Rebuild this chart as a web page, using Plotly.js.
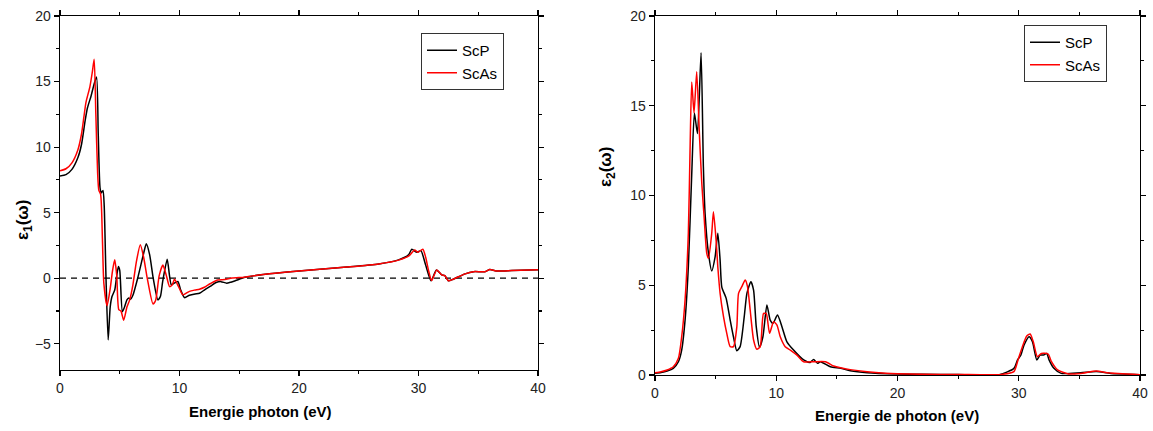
<!DOCTYPE html>
<html>
<head>
<meta charset="utf-8">
<script src="https://cdn.plot.ly/plotly-3.0.1.min.js"></script>
<style>html,body{margin:0;padding:0;background:#fff;}#chart{width:1153px;height:431px;}</style>
</head>
<body>
<div id="chart"></div>
<script>
// ---- Data: epsilon_1 (real part) ----
var e1_ScP_E = [0,0.5,1.0,1.5,1.8,2.1,2.3,2.6,2.85,3.06,3.2,3.35,3.45,3.6,3.7,3.85,4.03,4.2,4.35,4.58,4.75,4.89,5.0,5.22,5.4,5.6,5.75,5.9,6.1,6.5,7.0,7.22,7.5,7.8,8.19,8.4,8.6,8.97,9.15,9.31,9.5,9.86,10.1,10.42,10.83,11.3,11.67,12.08,12.6,13.06,13.47,13.94,14.3,14.7,15.4,16,17,18,20,22,24,26.67,28.33,29.17,29.44,29.86,30.2,30.6,31.05,31.5,31.94,32.2,32.5,32.9,33.9,34.6,35.56,35.97,36.5,37.8,40];
var e1_ScP_V = [7.8,7.9,8.3,9.2,10.2,12.0,13.0,13.9,14.8,15.35,11,6.9,6.5,6.7,5.5,0,-4.7,-2.2,-1.4,-0.9,0.2,0.9,0.6,-2.55,-2.2,-1.65,-1.5,-1.6,-1.3,0,1.9,2.62,1.8,0,-1.65,-1.4,-0.2,1.45,0.3,-0.5,-0.4,-0.25,-0.9,-1.48,-1.3,-1.2,-1.15,-0.9,-0.6,-0.33,-0.26,-0.38,-0.3,-0.18,0.05,0.15,0.28,0.38,0.56,0.7,0.85,1.09,1.4,1.78,2.21,1.98,2.1,1.0,-0.2,0.63,0.25,0.2,-0.2,-0.08,0.33,0.5,0.5,0.66,0.55,0.58,0.65];
var e1_ScAs_E = [0,0.5,1.0,1.5,1.8,2.0,2.17,2.5,2.7,2.86,3.0,3.15,3.25,3.4,3.55,3.67,3.94,4.2,4.4,4.58,4.75,4.92,5.1,5.33,5.6,5.83,6.1,6.4,6.72,7.0,7.3,7.78,8.0,8.3,8.61,8.9,9.17,9.4,9.58,9.9,10.28,10.83,11.3,11.67,12.08,12.6,13.2,13.8,14.4,15.4,16,17,18,20,22,24,26.67,28.33,29.2,29.67,29.95,30.36,30.6,30.83,31.1,31.53,31.94,32.2,32.5,32.9,33.9,34.6,35.56,35.97,36.5,37.8,40];
var e1_ScAs_V = [8.2,8.35,8.8,9.8,11.0,12.3,13.4,14.6,15.7,16.7,12.5,8.0,6.7,6.4,3.0,-0.4,-2.1,-0.8,0.6,1.4,0.2,-2.4,-2.5,-3.2,-2.2,-1.65,-0.5,1.3,2.55,1.6,0,-1.96,-1.7,0.2,1.0,0.2,-0.64,-0.5,-0.08,-0.6,-1.27,-1.0,-0.9,-0.84,-0.69,-0.4,-0.13,-0.1,0.02,0.08,0.16,0.28,0.38,0.56,0.7,0.85,1.09,1.38,1.7,2.16,1.98,2.21,1.6,0.63,-0.18,0.63,0.25,0.2,-0.2,-0.08,0.33,0.5,0.5,0.66,0.55,0.58,0.65];

// ---- Data: epsilon_2 (imaginary part) ----
var e2_ScP_E = [0,0.5,1.0,1.51,1.93,2.2,2.48,2.75,3.03,3.25,3.5,3.8,3.99,4.13,4.41,4.68,4.96,5.18,5.37,5.51,5.87,6.2,6.47,6.75,7.02,7.36,7.58,7.91,8.13,8.35,8.62,8.9,9.23,9.5,9.73,10.1,10.47,10.88,11.43,12.26,12.8,13.08,13.4,13.64,14.46,15.3,16.1,17.5,20,22,25,28.4,29.6,29.9,30.17,30.44,30.85,31.13,31.49,31.76,32.04,32.31,32.5,32.9,33.5,35.1,36.4,37.6,40];
var e2_ScP_V = [0.1,0.14,0.22,0.37,0.74,1.39,3.06,6.03,11.2,14.6,13.45,17.95,11.6,9.0,6.78,5.8,6.6,7.9,6.4,4.9,4.27,3.06,2.13,1.35,1.58,3.25,4.55,5.2,4.73,2.69,1.54,2.13,3.9,3.06,2.88,3.34,2.69,1.85,1.39,0.84,0.7,0.87,0.65,0.74,0.46,0.37,0.24,0.13,0.06,0.04,0.03,0.02,0.37,0.84,1.11,1.67,2.13,1.85,0.84,1.11,1.11,1.2,0.84,0.37,0.09,0.13,0.19,0.09,0.02];
var e2_ScAs_E = [0,0.5,1.0,1.51,1.93,2.2,2.48,2.75,2.89,3.03,3.22,3.44,3.66,3.86,4.05,4.27,4.41,4.68,4.82,5.04,5.18,5.37,5.65,5.92,6.2,6.47,6.75,6.89,7.16,7.44,7.63,7.85,8.13,8.4,8.68,8.95,9.17,9.45,9.78,10.06,10.33,10.74,11.16,11.71,12.26,13.08,14.05,14.74,15.3,16.1,17.5,19,20,22,25,28.4,29.6,29.94,30.3,30.66,30.94,31.2,31.54,31.87,32.42,32.7,33.2,34.1,35.1,36.4,37.3,40];
var e2_ScAs_V = [0.12,0.18,0.28,0.46,0.93,2.13,4.18,7.9,12.5,16.33,14.6,16.9,13.45,10.67,8.8,6.78,6.5,7.9,9.1,7.5,6.03,4.55,3.25,2.32,1.58,1.58,2.69,4.55,4.92,5.29,4.92,3.62,1.95,1.43,1.58,3.43,3.43,2.32,2.97,2.78,2.13,1.58,1.39,1.11,0.74,0.74,0.74,0.5,0.4,0.3,0.18,0.1,0.07,0.04,0.03,0.02,0.19,0.84,1.58,2.17,2.28,1.85,1.02,1.2,1.17,0.74,0.28,0.06,0.09,0.22,0.13,0.02];

var seriesNames = ['ScP', 'ScAs'];
var xTickVals = [0, 10, 20, 30, 40];

var FONT = 'Liberation Sans, Arial, sans-serif';
var lineStyle = function(c){ return {color: c, width: 1.5, shape: 'spline', smoothing: 0.6}; };

var traces = [
  {x: e1_ScP_E, y: e1_ScP_V, name: seriesNames[0], type: 'scatter', mode: 'lines', line: lineStyle('#000000'), xaxis: 'x', yaxis: 'y', legend: 'legend'},
  {x: e1_ScAs_E, y: e1_ScAs_V, name: seriesNames[1], type: 'scatter', mode: 'lines', line: lineStyle('#ff0000'), xaxis: 'x', yaxis: 'y', legend: 'legend'},
  {x: e2_ScP_E, y: e2_ScP_V, name: seriesNames[0], type: 'scatter', mode: 'lines', line: lineStyle('#000000'), xaxis: 'x2', yaxis: 'y2', legend: 'legend2'},
  {x: e2_ScAs_E, y: e2_ScAs_V, name: seriesNames[1], type: 'scatter', mode: 'lines', line: lineStyle('#ff0000'), xaxis: 'x2', yaxis: 'y2', legend: 'legend2'}
];

var W = 1153, H = 431;
function px(a){ return a / W; }
function py(b){ return 1 - b / H; }

var axisCommon = {
  showline: true, linecolor: '#000', linewidth: 1.3, mirror: 'ticks',
  ticks: 'outside', ticklen: 5, tickwidth: 1.2, tickcolor: '#000',
  showgrid: false, zeroline: false,
  tickfont: {family: FONT, size: 14, color: '#222'},
  minor: {ticks: 'outside', ticklen: 3, tickwidth: 1.2, tickcolor: '#000', showgrid: false}
};

var legendCommon = {xanchor: 'left', yanchor: 'top', bgcolor: '#fff', bordercolor: '#333', borderwidth: 1, font: {family: FONT, size: 15, color: '#000'}, tracegroupgap: 0, itemwidth: 30};

var layout = {
  width: W, height: H,
  margin: {l: 0, r: 0, t: 0, b: 0},
  paper_bgcolor: '#fff', plot_bgcolor: '#fff',
  showlegend: true,
  xaxis: Object.assign({}, axisCommon, {domain: [px(60), px(538)], range: [0, 40], tickvals: xTickVals, minor: Object.assign({}, axisCommon.minor, {dtick: 5}), anchor: 'y'}),
  yaxis: Object.assign({}, axisCommon, {domain: [py(370), py(16)], range: [-7, 20], dtick: 5, tick0: 0, minor: Object.assign({}, axisCommon.minor, {dtick: 2.5}), anchor: 'x'}),
  xaxis2: Object.assign({}, axisCommon, {domain: [px(655), px(1140)], range: [0, 40], tickvals: xTickVals, minor: Object.assign({}, axisCommon.minor, {dtick: 5}), anchor: 'y2'}),
  yaxis2: Object.assign({}, axisCommon, {domain: [py(375), py(16)], range: [0, 20], dtick: 5, tick0: 0, minor: Object.assign({}, axisCommon.minor, {dtick: 2.5}), anchor: 'x2'}),
  legend: Object.assign({}, legendCommon, {x: px(421), y: py(33)}),
  legend2: Object.assign({}, legendCommon, {x: px(1024), y: py(25)}),
  shapes: [
    {type: 'line', xref: 'x', yref: 'y', x0: 0, x1: 40, y0: 0, y1: 0, line: {color: '#000', width: 1.3, dash: '6px,5px'}, layer: 'below'}
  ],
  annotations: [
    {text: '<b>Energie photon (eV)</b>', xref: 'paper', yref: 'paper', x: px(260), y: py(411), xanchor: 'center', yanchor: 'middle', showarrow: false, font: {family: FONT, size: 15, color: '#000'}},
    {text: '<b>Energie de photon (eV)</b>', xref: 'paper', yref: 'paper', x: px(897), y: py(415), xanchor: 'center', yanchor: 'middle', showarrow: false, font: {family: FONT, size: 15, color: '#000'}},
    {text: '<b>ε<sub>1</sub>(ω)</b>', xref: 'paper', yref: 'paper', x: px(24), y: py(220), xanchor: 'center', yanchor: 'middle', textangle: -90, showarrow: false, font: {family: FONT, size: 17, color: '#000'}},
    {text: '<b>ε<sub>2</sub>(ω)</b>', xref: 'paper', yref: 'paper', x: px(607), y: py(167), xanchor: 'center', yanchor: 'middle', textangle: -90, showarrow: false, font: {family: FONT, size: 17, color: '#000'}}
  ]
};

Plotly.newPlot('chart', traces, layout, {displayModeBar: false, staticPlot: true});
</script>
</body>
</html>
